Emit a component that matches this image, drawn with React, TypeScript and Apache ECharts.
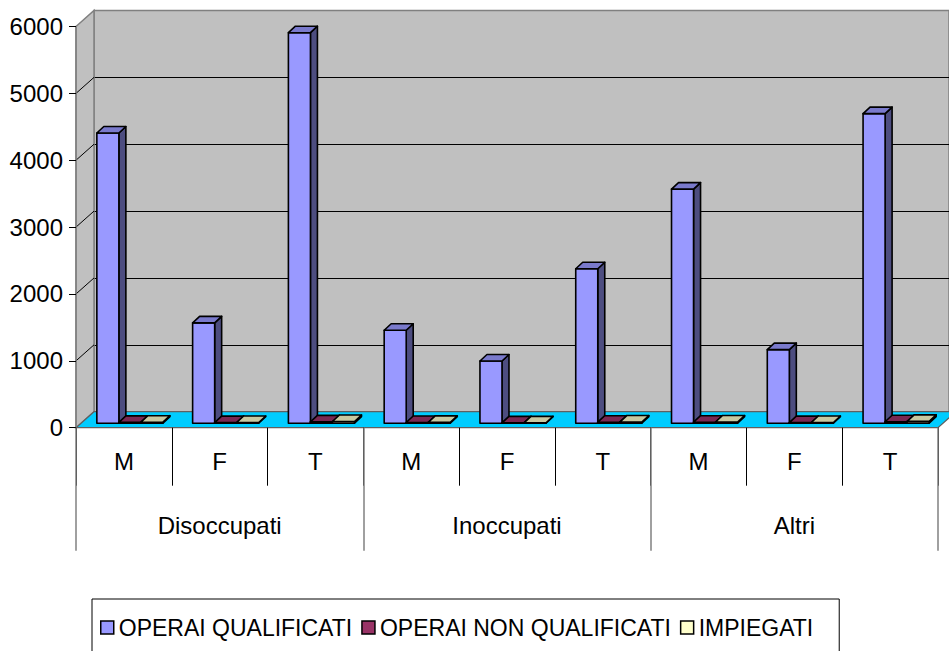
import React, { useEffect, useRef } from "react";
import * as echarts from "echarts";

// ---- data ----
const SUB_CATEGORIES = ["M", "F", "T", "M", "F", "T", "M", "F", "T"];
const GROUPS = ["Disoccupati", "Inoccupati", "Altri"];
const SERIES_NAMES = ["OPERAI QUALIFICATI", "OPERAI NON QUALIFICATI", "IMPIEGATI"];
const OPERAI_QUALIFICATI = [4340, 1500, 5840, 1390, 930, 2310, 3500, 1100, 4630];
const OPERAI_NON_QUALIFICATI = [12, 8, 20, 10, 5, 15, 15, 8, 22];
const IMPIEGATI = [15, 10, 25, 12, 5, 17, 18, 10, 28];
const Y_TICKS = [0, 1000, 2000, 3000, 4000, 5000, 6000];
const Y_MAX = 6000;
const Y_STEP = 1000;

// ---- styles / layout ----
const FONT = "'Liberation Sans', Arial, sans-serif";
const FACES = [
  { front: "#9999ff", side: "#4d4d80", top: "#7a7acc" },
  { front: "#993366", side: "#4d1a33", top: "#7a2952" },
  { front: "#ffffcc", side: "#808066", top: "#c8c8a0" },
];
const WALL_DX = 18;
const WALL_DY = -16;
const BAR_FRAC = 0.23;
const BAR_SHIFT_X = 6;
const BAR_SHIFT_Y = -4.5;
const BD_X = 7;
const BD_Y = -6.5;
const SERIES_DATA = [OPERAI_QUALIFICATI, OPERAI_NON_QUALIFICATI, IMPIEGATI];

function makeBarRender(k: number) {
  const face = FACES[k];
  return (params: any, api: any) => {
    const cat = api.value(0);
    const val = api.value(1);
    const band = api.size([1, 0])[0];
    const base = api.coord([cat, 0]);
    const top = api.coord([cat, val]);
    const w = band * BAR_FRAC;
    const x0 = base[0] - 1.5 * w + k * w + BAR_SHIFT_X;
    const x1 = x0 + w;
    const yb = base[1] + BAR_SHIFT_Y;
    const yt = top[1] + BAR_SHIFT_Y;
    const stroke = { stroke: "#000", lineWidth: 1.6, lineJoin: "round" };
    return {
      type: "group",
      children: [
        {
          type: "polygon",
          shape: { points: [[x1, yt], [x1 + BD_X, yt + BD_Y], [x1 + BD_X, yb + BD_Y], [x1, yb]] },
          style: { fill: face.side, ...stroke },
        },
        {
          type: "rect",
          shape: { x: x0, y: yt, width: w, height: yb - yt },
          style: { fill: face.front, ...stroke },
        },
        {
          type: "polygon",
          shape: { points: [[x0, yt], [x1, yt], [x1 + BD_X, yt + BD_Y], [x0 + BD_X, yt + BD_Y]] },
          style: { fill: face.top, ...stroke },
        },
      ],
    };
  };
}

function renderDecor(params: any, api: any) {
  const v = api.value(1);
  const p = api.coord([0, v]);
  const band = api.size([1, 0])[0];
  const left = p[0] - band / 2;
  const children: any[] = [];
  if (params.dataIndex === 0) {
    const pt = api.coord([0, Y_MAX]);
    const pr = api.coord([SUB_CATEGORIES.length - 1, 0]);
    const right = pr[0] + band / 2;
    children.push({
      type: "polygon",
      shape: {
        points: [[left, pt[1]], [left + WALL_DX, pt[1] + WALL_DY], [left + WALL_DX, p[1] + WALL_DY], [left, p[1]]],
      },
      style: { fill: "#c0c0c0", stroke: "#808080", lineWidth: 1.5 },
    });
    children.push({
      type: "polygon",
      shape: {
        points: [[left, p[1]], [left + WALL_DX, p[1] + WALL_DY], [right + WALL_DX, p[1] + WALL_DY], [right, p[1]]],
      },
      style: { fill: "#00ccff", stroke: "#606060", lineWidth: 1.2 },
    });
  } else if (v < Y_MAX) {
    children.push({
      type: "line",
      shape: { x1: left, y1: p[1], x2: left + WALL_DX, y2: p[1] + WALL_DY },
      style: { stroke: "#000", lineWidth: 1 },
    });
  }
  return { type: "group", children };
}

export default function App() {
  const ref = useRef<HTMLDivElement>(null);
  useEffect(() => {
    if (!ref.current) return;
    const chart = echarts.init(ref.current, null, { renderer: "svg" });
    const splitColors = Y_TICKS.map((t) => (t === Y_MAX ? "#808080" : "#000"));
    const option: any = {
      animation: false,
      textStyle: { fontFamily: FONT },
      grid: [
        { left: 76, top: 26.5, width: 862, height: 401.2, show: false },
        {
          left: 76 + WALL_DX,
          top: 26.5 + WALL_DY,
          width: 862,
          height: 401.2,
          show: true,
          backgroundColor: "#c0c0c0",
          borderColor: "#808080",
          borderWidth: 1.5,
        },
      ],
      xAxis: [
        {
          gridIndex: 0,
          type: "category",
          data: SUB_CATEGORIES,
          position: "bottom",
          z: 5,
          axisLine: { show: false },
          axisTick: { show: true, interval: 0, length: 58, lineStyle: { color: "#000", width: 1 } },
          axisLabel: { interval: 0, margin: 22, fontSize: 24, color: "#000", fontFamily: FONT },
        },
        {
          gridIndex: 0,
          type: "category",
          data: GROUPS,
          position: "bottom",
          z: 5,
          axisLine: { show: false },
          axisTick: { show: true, interval: 0, length: 123, lineStyle: { color: "#808080", width: 1.5 } },
          axisLabel: { interval: 0, margin: 86, fontSize: 24, color: "#000", fontFamily: FONT },
        },
        { gridIndex: 1, type: "category", data: SUB_CATEGORIES, show: false },
      ],
      yAxis: [
        {
          gridIndex: 0,
          type: "value",
          min: 0,
          max: Y_MAX,
          interval: Y_STEP,
          z: 5,
          axisLine: { show: true, lineStyle: { color: "#808080", width: 1.5 } },
          axisTick: { show: true, length: 7, lineStyle: { color: "#000" } },
          axisLabel: {
            margin: 13,
            fontSize: 24,
            color: "#000",
            fontFamily: FONT,
            formatter: (v: number) => String(v),
          },
          splitLine: { show: false },
        },
        {
          gridIndex: 1,
          type: "value",
          min: 0,
          max: Y_MAX,
          interval: Y_STEP,
          axisLine: { show: false },
          axisTick: { show: false },
          axisLabel: { show: false },
          splitLine: { show: true, lineStyle: { color: splitColors, width: 1.2 } },
        },
      ],
      legend: {
        data: SERIES_NAMES,
        left: 92,
        top: 599,
        orient: "horizontal",
        padding: [17, 26, 40, 8],
        itemGap: 9,
        itemWidth: 13,
        itemHeight: 13,
        icon: "rect",
        borderColor: "#000",
        borderWidth: 1,
        itemStyle: { borderColor: "#000", borderWidth: 1.5 },
        textStyle: { fontSize: 23, color: "#000", fontFamily: FONT },
        selectedMode: false,
      },
      series: [
        {
          type: "custom",
          name: "decor",
          xAxisIndex: 0,
          yAxisIndex: 0,
          z: 1,
          silent: true,
          renderItem: renderDecor,
          data: Y_TICKS.map((t) => [0, t]),
          encode: { x: 0, y: 1 },
        },
        ...SERIES_NAMES.map((name, k) => ({
          type: "custom",
          name,
          xAxisIndex: 0,
          yAxisIndex: 0,
          z: 3,
          itemStyle: { color: FACES[k].front, borderColor: "#000" },
          renderItem: makeBarRender(k),
          data: SERIES_DATA[k].map((v, i) => [i, v]),
          encode: { x: 0, y: 1 },
        })),
      ],
    };
    chart.setOption(option);
    return () => chart.dispose();
  }, []);
  return (
    <div
      ref={ref}
      style={{ position: "fixed", left: 0, top: 0, width: 949, height: 651, background: "#fff" }}
    />
  );
}
